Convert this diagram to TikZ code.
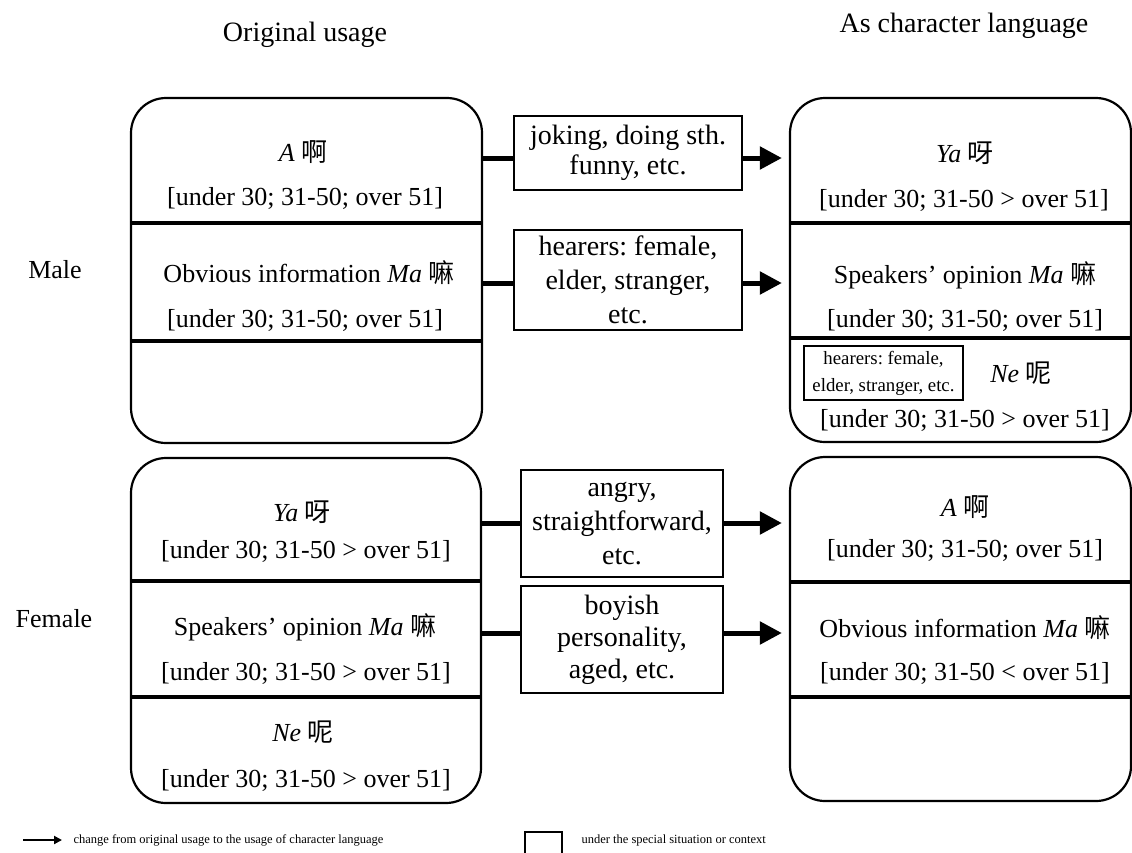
\documentclass[tikz,border=0pt]{standalone}
\usepackage{fontspec}
\setmainfont{Liberation Serif}
\newfontfamily\cjk{Noto Sans CJK SC}
\usetikzlibrary{arrows.meta}
\frenchspacing

\begin{document}
\begin{tikzpicture}[x=1pt,y=-1pt]
			\tikzset{usage/.style={draw, line width=2.2pt, rounded corners=35pt, minimum width=351pt, minimum height=345pt, inner sep=0pt},
				cond/.style={draw, line width=2.5pt, align=center, inner sep=0pt, font=\fontsize{28}{34}\selectfont},
				item/.style={font=\fontsize{26}{30}\selectfont},
				titre/.style={font=\fontsize{28}{32}\selectfont},
				legende/.style={font=\fontsize{12.5}{15}\selectfont, anchor=west},
				sep/.style={line width=4pt},
				trait/.style={line width=5pt},
				fleche/.style={line width=5pt, -{Triangle[length=22pt,width=22pt]}, shorten >=7pt}};
			\useasboundingbox (0,0) rectangle (1132,852);
			\node [titre] (orig) at (305,35) {Original usage};
			\node [titre] (chara) at (964,26) {As character language};
			\node [item] (male) at (55,270) {Male};
			\node [item] (female) at (54,619) {Female};
			\node [usage] (lt) at (306.5,270.5) {};
			\node [usage, minimum width=341pt, minimum height=344pt] (rt) at (960.5,270) {};
			\node [usage, minimum width=350pt] (lb) at (306,630.5) {};
			\node [usage, minimum width=341pt, minimum height=344pt] (rb) at (960.5,629) {};
			\draw[sep] (131,223) -- (482,223);
			\draw[sep] (131,341) -- (482,341);
			\draw[sep] (790,223) -- (1131,223);
			\draw[sep] (790,338) -- (1131,338);
			\draw[sep] (131,581) -- (481,581);
			\draw[sep] (131,697) -- (481,697);
			\draw[sep] (790,582) -- (1131,582);
			\draw[sep] (790,697) -- (1131,697);
			\node [item] (lt1) at (303,152) {\textit{A} {\cjk 啊}};
			\node [item] (lt2) at (305,198) {[under 30; 31-50; over 51]};
			\node [item] (lt3) at (309,273) {Obvious information \textit{Ma} {\cjk 嘛}};
			\node [item] (lt4) at (305,320) {[under 30; 31-50; over 51]};
			\node [item] (rt1) at (965,153) {\textit{Ya} {\cjk 呀}};
			\node [item] (rt2) at (964,200) {[under 30; 31-50 > over 51]};
			\node [item] (rt3) at (965,275) {Speakers’ opinion \textit{Ma} {\cjk 嘛}};
			\node [item] (rt4) at (965,320) {[under 30; 31-50; over 51]};
			\node [draw, line width=2pt, align=center, inner sep=0pt, minimum width=159pt, minimum height=54pt, font=\fontsize{18.8}{27}\selectfont] (rtbox) at (883.5,373) {hearers: female,\\elder, stranger, etc.};
			\node [item] (rt5) at (1021,373) {\textit{Ne} {\cjk 呢}};
			\node [item] (rt6) at (965,420) {[under 30; 31-50 > over 51]};
			\node [item] (lb1) at (302,512) {\textit{Ya} {\cjk 呀}};
			\node [item] (lb2) at (306,551) {[under 30; 31-50 > over 51]};
			\node [item] (lb3) at (305,627) {Speakers’ opinion \textit{Ma} {\cjk 嘛}};
			\node [item] (lb4) at (306,673) {[under 30; 31-50 > over 51]};
			\node [item] (lb5) at (303,732) {\textit{Ne} {\cjk 呢}};
			\node [item] (lb6) at (306,780) {[under 30; 31-50 > over 51]};
			\node [item] (rb1) at (965,507) {\textit{A} {\cjk 啊}};
			\node [item] (rb2) at (965,550) {[under 30; 31-50; over 51]};
			\node [item] (rb3) at (965,628) {Obvious information \textit{Ma} {\cjk 嘛}};
			\node [item] (rb4) at (965,673) {[under 30; 31-50 < over 51]};
			\node [cond, minimum width=228pt, minimum height=74pt, font=\fontsize{28}{30}\selectfont] (jok) at (628,153) {joking, doing sth.\\funny, etc.};
			\node [cond, minimum width=228pt, minimum height=100pt] (hear) at (628,280) {hearers: female,\\elder, stranger,\\etc.};
			\node [cond, minimum width=202pt, minimum height=107pt] (angry) at (622,523.5) {angry,\\straightforward,\\etc.};
			\node [cond, minimum width=202pt, minimum height=107pt, font=\fontsize{28}{32}\selectfont] (boy) at (622,639.5) {boyish\\personality,\\aged, etc.};
			\coordinate (r1) at (0,158);
			\coordinate (r2) at (0,283);
			\coordinate (r3) at (0,523);
			\coordinate (r4) at (0,633);
			\draw[trait] (lt.east |- r1) -- (jok.west |- r1);
			\draw[fleche] (jok.east |- r1) -- (rt.west |- r1);
			\draw[trait] (lt.east |- r2) -- (hear.west |- r2);
			\draw[fleche] (hear.east |- r2) -- (rt.west |- r2);
			\draw[trait] (lb.east |- r3) -- (angry.west |- r3);
			\draw[fleche] (angry.east |- r3) -- (rb.west |- r3);
			\draw[trait] (lb.east |- r4) -- (boy.west |- r4);
			\draw[fleche] (boy.east |- r4) -- (rb.west |- r4);
			\coordinate (la) at (23,840);
			\node [legende] (ltxt) at (70,840) {change from original usage to the usage of character language};
			\draw[line width=2pt, -{Triangle[length=8pt,width=8pt]}, shorten >=8pt] (la) -- (ltxt.west);
			\draw[line width=2pt] (525,832) rectangle (562,865);
			\node [legende] (btxt) at (578,840) {under the special situation or context};
			\end{tikzpicture}
\end{document}
